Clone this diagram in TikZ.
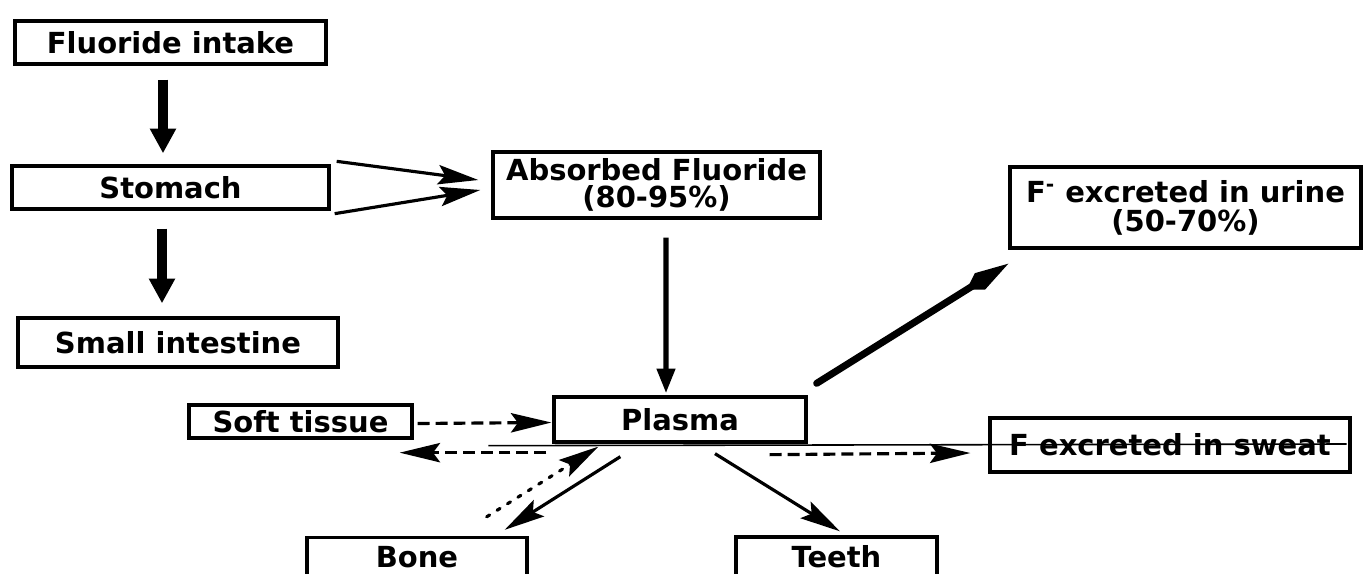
\documentclass[tikz,border=0pt]{standalone}
\usepackage{fontspec}
\setmainfont{DejaVu Sans}
\usetikzlibrary{arrows.meta,calc}
\begin{document}
\begin{tikzpicture}[x=0.02cm,y=-0.02cm,
  box/.style={draw, line width=1.9pt, inner sep=0pt, align=center,
    font=\bfseries\fontsize{16.5}{15}\selectfont},
  sz/.style 2 args={minimum width=#1*0.02cm, minimum height=#2*0.02cm},
  bigarrow/.style={line width=6pt, -{Triangle[width=14pt,length=14pt]}},
  medarrow/.style={line width=3pt, -{Triangle[width=10pt,length=14pt]}},
  thinarrow/.style={line width=1.8pt, -{Stealth[width=11pt,length=23pt,inset=4pt]}},
  dasharrow/.style={thinarrow, dash pattern=on 6.8pt off 3.4pt},
  dotarrow/.style={thinarrow, line cap=round, dash pattern=on 2pt off 5pt},
  urinearrow/.style={line width=4pt, line cap=round, -{Kite[width=11pt,length=28pt,inset=9pt]}},
  thinline/.style={line width=0.9pt}
]
\useasboundingbox (0,0) rectangle (1363,574);
\clip (0,0) rectangle (1363,574);
\fill[white] (0,0) rectangle (1363,574);

% boxes
\node[box, sz={311}{43}] (intake) at (170.5,42.5) {Fluoride intake};
\node[box, sz={317}{43}] (stomach) at (170.5,187.5) {Stomach};
\node[box, sz={320}{49}] (small) at (178,342.5) {Small intestine};
\node[box, sz={327}{66}] (absorbed) at (656.5,185) {Absorbed Fluoride\\(80-95\%)};
\node[box, sz={351}{81}, font=\bfseries\fontsize{16.5}{16.5}\selectfont] (urine) at (1185.5,207.5) {F\textsuperscript{-} excreted in urine\\(50-70\%)};
\node[box, sz={252}{45}] (plasma) at (680,419.5) {Plasma};
\node[box, sz={223}{33}] (soft) at (300.5,421.5) {Soft tissue};
\node[box, sz={360}{54}] (sweat) at (1170,445) {F excreted in sweat};
\node[box, sz={220}{40}] (bone) at (417,557.5) {Bone};
\node[box, sz={201}{40}] (teeth) at (836.5,557) {Teeth};

% connectors
\draw[bigarrow] ($(intake.south)+(-7.5,14)$) -- ($(stomach.north)+(-7.5,-11)$);
\draw[bigarrow] ($(stomach.south)+(-8.5,18)$) -- ($(small.north)+(-16,-13)$);
\draw[thinarrow] ($(stomach.north east)+(6,-3)$) -- ($(absorbed.west)+(-13,-5)$);
\draw[thinarrow] ($(stomach.south east)+(4,3)$) -- ($(absorbed.west)+(-11,5)$);
\draw[medarrow] ($(absorbed.south)+(9.5,18)$) -- ($(plasma.north)+(-14,-2)$);
\draw[urinearrow] ($(plasma.north east)+(9,-12)$) -- ($(urine.south west)+(0,14)$);

\draw[thinline] ($(plasma.south west)+(-64,2)$) -- ($(sweat.east)+(-5,-1)$);

\draw[dasharrow] ($(soft.east)+(4,2)$) -- ($(plasma.west)+(-1,3)$);
\draw[dasharrow] ($(plasma.south west)+(-6,9)$) -- ($(soft.south east)+(-14,13)$);
\draw[dotarrow] ($(bone.north east)+(-42,-19)$) -- ($(plasma.south west)+(46,3)$);
\draw[thinarrow] ($(plasma.south west)+(68,13)$) -- ($(bone.north east)+(-24,-6)$);
\draw[thinarrow] ($(plasma.south)+(35,10)$) -- ($(teeth.north)+(3.5,-4)$);
\draw[dasharrow] ($(plasma.south east)+(-38,11)$) -- ($(sweat.west)+(-18,8)$);
\end{tikzpicture}
\end{document}
